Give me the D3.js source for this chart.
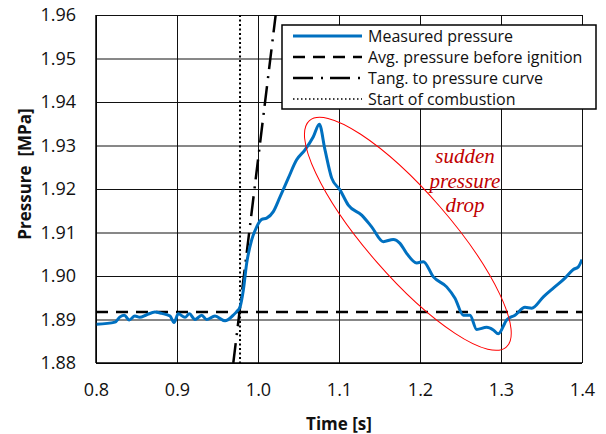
<!DOCTYPE html>
<html lang="en">
<head>
    <script src="https://d3js.org/d3.v7.min.js"></script>
    <style>
        body { margin: 0; background: #fff; }
    </style>
</head>
<body>
    <svg width="606" height="434"></svg>
    <script>
        // measured pressure
        const time = [0.8008, 0.8235, 0.8296, 0.835, 0.841, 0.848, 0.854, 0.8626, 0.8728, 0.881,
            0.8914, 0.8963, 0.9016, 0.9099, 0.9152, 0.9222, 0.9305, 0.9366, 0.9469, 0.9593,
            0.9695, 0.9737, 0.9778, 0.9819, 0.986, 0.9922, 0.9984, 1.0046, 1.0107, 1.0189,
            1.0272, 1.0374, 1.0477, 1.058, 1.0683, 1.0757, 1.0827, 1.091, 1.1012, 1.1115,
            1.128, 1.1403, 1.1547, 1.167, 1.1753, 1.1835, 1.1959, 1.2041, 1.2165, 1.2329,
            1.2432, 1.2535, 1.2617, 1.27, 1.2823, 1.2905, 1.2967, 1.307, 1.3173, 1.3296,
            1.3379, 1.3523, 1.3646, 1.379, 1.3893, 1.3955, 1.4];
        const pressure = [1.8889, 1.8894, 1.8906, 1.8910, 1.8899, 1.8908, 1.8905, 1.8911, 1.8917, 1.8914,
            1.8908, 1.8893, 1.8913, 1.8905, 1.8913, 1.8900, 1.8910, 1.8900, 1.8908, 1.8897,
            1.8910, 1.8918, 1.8929, 1.8968, 1.9029, 1.9083, 1.9113, 1.9130, 1.9133, 1.9148,
            1.9182, 1.9225, 1.9267, 1.9290, 1.9320, 1.9349, 1.9290, 1.9225, 1.9198, 1.9163,
            1.9140, 1.9113, 1.9079, 1.9084, 1.9075, 1.9052, 1.9030, 1.9033, 1.8998, 1.8975,
            1.8949, 1.8910, 1.8910, 1.8877, 1.8882, 1.8876, 1.8867, 1.8899, 1.8910, 1.8928,
            1.8926, 1.8952, 1.8972, 1.8995, 1.9015, 1.9021, 1.9038];

        const avgPressure = 1.8917;
        const startCombustion = 0.9778;
        const tangentTime = [0.9695, 1.0218];
        const tangentPressure = [1.88, 1.96];

        const xTicks = [0.8, 0.9, 1.0, 1.1, 1.2, 1.3, 1.4];
        const yTicks = [1.88, 1.89, 1.90, 1.91, 1.92, 1.93, 1.94, 1.95, 1.96];

        const legendLabels = ["Measured pressure", "Avg. pressure before ignition",
            "Tang. to pressure curve", "Start of combustion"];
        const noteLines = ["sudden", "pressure", "drop"];
        // ellipse centre in data units
        const noteCentre = [1.185, 1.9097];

        const sans = "'Open Sans', Lato, sans-serif";

        const svg = d3.select("svg");
        const x = d3.scaleLinear().domain([0.8, 1.4]).range([96, 582]);
        const y = d3.scaleLinear().domain([1.88, 1.96]).range([363, 15]);

        // grid
        svg.append("g")
            .attr("transform", "translate(0,363)")
            .call(d3.axisBottom(x).tickValues(xTicks).tickSize(-348).tickFormat(""))
            .call(g => g.select(".domain").remove())
            .selectAll("line").attr("stroke", "#111").attr("stroke-width", 1);
        svg.append("g")
            .attr("transform", "translate(96,0)")
            .call(d3.axisLeft(y).tickValues(yTicks).tickSize(-486).tickFormat(""))
            .call(g => g.select(".domain").remove())
            .selectAll("line").attr("stroke", "#111").attr("stroke-width", 1);

        // tick labels
        const xAxis = svg.append("g")
            .attr("transform", "translate(0,363)")
            .call(d3.axisBottom(x).tickValues(xTicks).tickSize(0).tickPadding(20).tickFormat(d3.format(".1f")));
        xAxis.select(".domain").remove();
        xAxis.selectAll("text").style("font-size", "18px").style("font-family", sans).attr("fill", "#111");

        const yAxis = svg.append("g")
            .attr("transform", "translate(96,0)")
            .call(d3.axisLeft(y).tickValues(yTicks).tickSize(0).tickPadding(20).tickFormat(d3.format(".2f")));
        yAxis.select(".domain").remove();
        yAxis.selectAll("text").style("font-size", "18px").style("font-family", sans).attr("fill", "#111");

        // axis lines
        svg.append("line").attr("x1", 96).attr("x2", 96).attr("y1", 15).attr("y2", 363)
            .attr("stroke", "#000").attr("stroke-width", 1.5);
        svg.append("line").attr("x1", 96).attr("x2", 582).attr("y1", 363).attr("y2", 363)
            .attr("stroke", "#000").attr("stroke-width", 1.5);

        svg.append("defs").append("clipPath").attr("id", "plot")
            .append("rect").attr("x", 96).attr("y", 15).attr("width", 486).attr("height", 348);

        const plot = svg.append("g").attr("clip-path", "url(#plot)");

        // average pressure
        plot.append("line")
            .attr("x1", x(0.8)).attr("x2", x(1.4))
            .attr("y1", y(avgPressure)).attr("y2", y(avgPressure))
            .attr("stroke", "#000").attr("stroke-width", 2.5).attr("stroke-dasharray", "12,8");

        // start of combustion
        plot.append("line")
            .attr("x1", x(startCombustion)).attr("x2", x(startCombustion))
            .attr("y1", y(1.96)).attr("y2", y(1.88))
            .attr("stroke", "#000").attr("stroke-width", 2).attr("stroke-dasharray", "2,2.5");

        // tangent
        plot.append("line")
            .attr("x1", x(tangentTime[0])).attr("x2", x(tangentTime[1]))
            .attr("y1", y(tangentPressure[0])).attr("y2", y(tangentPressure[1]))
            .attr("stroke", "#000").attr("stroke-width", 2.5).attr("stroke-dasharray", "20,8,2,7");

        // measured pressure
        const pts = time.map((t, i) => [t, pressure[i]]);
        plot.append("path")
            .datum(pts)
            .attr("fill", "none")
            .attr("stroke", "#0070c0")
            .attr("stroke-width", 3)
            .attr("stroke-linejoin", "round")
            .attr("d", d3.line().x(d => x(d[0])).y(d => y(d[1])).curve(d3.curveMonotoneX));

        // annotation ellipse
        svg.append("ellipse")
            .attr("cx", x(noteCentre[0])).attr("cy", y(noteCentre[1]))
            .attr("rx", 150).attr("ry", 42)
            .attr("transform", `rotate(49,${x(noteCentre[0])},${y(noteCentre[1])})`)
            .attr("fill", "none").attr("stroke", "#ff0000").attr("stroke-width", 1);

        svg.append("g").selectAll("text")
            .data(noteLines)
            .join("text")
            .attr("x", 465)
            .attr("y", (d, i) => 163 + i * 24.5)
            .attr("text-anchor", "middle")
            .style("font-family", "'Liberation Serif', 'Times New Roman', serif")
            .style("font-style", "italic")
            .style("font-size", "21px")
            .attr("fill", "#c00000")
            .text(d => d);

        // legend
        const legend = svg.append("g");
        legend.append("rect")
            .attr("x", 282).attr("y", 25).attr("width", 314).attr("height", 84)
            .attr("fill", "#fff").attr("stroke", "#000").attr("stroke-width", 1.5);
        const styles = [
            {stroke: "#0070c0", dash: null, w: 3},
            {stroke: "#000", dash: "12,8", w: 2.5},
            {stroke: "#000", dash: "20,8,2,7", w: 2.5},
            {stroke: "#000", dash: "1.5,2.5", w: 1.5}
        ];
        legendLabels.forEach((label, i) => {
            const ly = 36 + i * 21;
            legend.append("line")
                .attr("x1", 293).attr("x2", 362).attr("y1", ly).attr("y2", ly)
                .attr("stroke", styles[i].stroke).attr("stroke-width", styles[i].w)
                .attr("stroke-dasharray", styles[i].dash);
            legend.append("text")
                .attr("x", 368).attr("y", ly)
                .attr("dy", "0.35em")
                .style("font-family", sans)
                .style("font-size", "16px")
                .attr("fill", "#111")
                .text(label);
        });

        // axis titles
        svg.append("text")
            .attr("transform", "translate(25,174) rotate(-90)")
            .attr("text-anchor", "middle")
            .attr("dy", "0.35em")
            .style("font-family", sans)
            .style("font-size", "17px")
            .style("font-weight", "bold")
            .style("white-space", "pre")
            .attr("fill", "#111")
            .text("Pressure  [MPa]");
        svg.append("text")
            .attr("x", 339).attr("y", 424)
            .attr("text-anchor", "middle")
            .attr("dy", "0.35em")
            .style("font-family", sans)
            .style("font-size", "17px")
            .style("font-weight", "bold")
            .attr("fill", "#111")
            .text("Time [s]");
    </script>
</body>
</html>
